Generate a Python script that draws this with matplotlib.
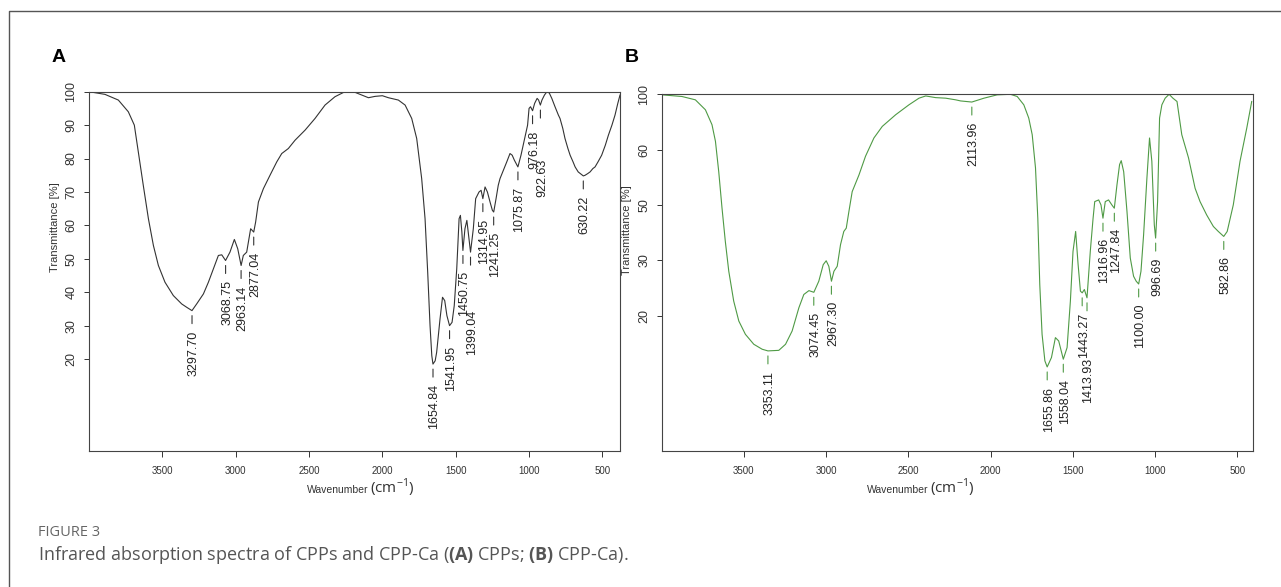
import numpy as np
import matplotlib
matplotlib.use("Agg")
import matplotlib.pyplot as plt
from matplotlib.lines import Line2D

# ---- data ----
# panel A: CPPs (wavenumber cm-1, transmittance %)
a_wn = [4000, 3891, 3800, 3732, 3691, 3664, 3630, 3595, 3561, 3527, 3482, 3425, 3368, 3334,
        3298, 3266, 3220, 3186, 3152, 3118, 3095, 3069, 3039, 3009, 2986, 2963, 2948, 2925,
        2898, 2877, 2864, 2845, 2811, 2766, 2720, 2686, 2641, 2595, 2527, 2459, 2391, 2323,
        2255, 2220, 2186, 2140, 2095, 2050, 2000, 1959, 1891, 1845, 1800, 1766, 1732, 1709,
        1691, 1675, 1663, 1655, 1640, 1630, 1607, 1590, 1575, 1560, 1542, 1525, 1510, 1493,
        1477, 1468, 1458, 1451, 1437, 1424, 1412, 1399, 1380, 1364, 1341, 1327, 1315, 1300,
        1284, 1266, 1250, 1241, 1225, 1210, 1198, 1175, 1152, 1130, 1115, 1100, 1076, 1055,
        1030, 1010, 1000, 990, 976, 962, 945, 935, 923, 912, 895, 878, 862, 845, 823, 800,
        789, 770, 755, 735, 720, 700, 686, 665, 650, 630, 618, 600, 584, 565, 550, 530, 505,
        480, 459, 435, 414, 395, 380]
a_T = [100, 99.2, 97.5, 94, 90, 82, 72, 62, 54, 48, 43, 39, 36.5, 35.5,
       34.5, 36.5, 39.5, 43, 47, 51, 51.2, 49.5, 52, 55.8, 53, 48, 51, 52,
       59, 58, 61, 67, 71, 75, 79, 81.5, 83, 85.5, 88.5, 92, 96, 98.5,
       100, 100, 99.8, 99, 98.2, 98.6, 98.8, 98.2, 97.5, 96, 92, 86, 74, 62,
       46, 30, 21, 18.5, 19.5, 22, 32, 38.5, 37.5, 33, 30, 31, 36, 47,
       62, 63, 58, 52.5, 59, 61.5, 57, 52, 59, 68, 70, 70.5, 68, 71.5,
       70, 67, 64.5, 64, 68, 72, 74, 76.5, 79, 81.5, 81, 79.5, 77.5, 81,
       86, 90, 95, 95.5, 94.3, 96.5, 98, 97.5, 96, 97.5, 99, 100, 99.6, 98, 95.5, 93,
       92, 89, 86, 83, 81, 79, 77.5, 76, 75.5, 74.8, 75, 75.5, 76, 77, 77.5, 79, 81,
       84, 87, 90, 93, 96.5, 99]

a_peak_wn = [3297.70, 3068.75, 2963.14, 2877.04, 1654.84, 1541.95, 1450.75, 1399.04,
             1314.95, 1241.25, 1075.87, 976.18, 922.63, 630.22]
a_peak_T = [34.5, 49.5, 48, 58, 18.5, 30, 52.5, 52, 68, 64, 77.5, 94.3, 96, 74.8]
a_peak_labels = ["3297.70", "3068.75", "2963.14", "2877.04", "1654.84", "1541.95", "1450.75",
                 "1399.04", "1314.95", "1241.25", "1075.87", "976.18", "922.63", "630.22"]
a_yticks = [100, 90, 80, 70, 60, 50, 40, 30, 20]
a_yticklabels = ["100", "90", "80", "70", "60", "50", "40", "30", "20"]

# panel B: CPP-Ca (plotted on the figure's own evenly spaced scale)
b_wn = [3995, 3875, 3794, 3733, 3693, 3672, 3652, 3632, 3612, 3591, 3561, 3530, 3490, 3439,
        3388, 3353, 3287, 3246, 3206, 3165, 3135, 3104, 3074, 3044, 3017, 2999, 2983, 2967,
        2952, 2932, 2912, 2892, 2877, 2861, 2841, 2800, 2760, 2709, 2658, 2577, 2496, 2435,
        2394, 2334, 2273, 2212, 2182, 2114, 2040, 1960, 1879, 1838, 1798, 1768, 1747, 1727,
        1713, 1701, 1687, 1670, 1656, 1630, 1606, 1586, 1558, 1535, 1515, 1499, 1483, 1468,
        1454, 1443, 1430, 1414, 1394, 1377, 1367, 1343, 1329, 1317, 1303, 1283, 1263, 1248,
        1232, 1216, 1206, 1191, 1171, 1151, 1131, 1115, 1100, 1086, 1070, 1050, 1034, 1020,
        1005, 997, 985, 973, 959, 939, 915, 892, 867, 838, 797, 757, 727, 687, 646, 616, 583,
        562, 525, 484, 443, 413]
b_T = [99.9, 99.6, 99, 97.2, 94.5, 91.5, 86, 79.4, 73.4, 68, 62.6, 59, 56.6, 54.8,
       53.9, 53.6, 53.7, 54.8, 57.2, 61.4, 63.8, 64.5, 64.2, 66.2, 69.2, 69.9, 68.9, 66.2,
       68, 68.9, 72.8, 75.2, 75.8, 78.8, 82.4, 85.4, 88.8, 92.1, 94.2, 96.3, 98.1, 99.3,
       99.7, 99.4, 99.3, 99, 98.8, 98.6, 99.3, 99.9, 100, 99.6, 98.1, 95.7, 92.7, 86.7,
       77.6, 65.6, 56.6, 51.8, 50.7, 52.4, 56, 55.4, 52.1, 54.2, 62.6, 71.6, 75.2, 69.2,
       64.4, 64.1, 64.7, 63.2, 71.6, 77.6, 80.6, 80.9, 80, 77.6, 80.6, 80.9, 80, 79.4,
       83.6, 87.3, 88, 86, 78.8, 70.4, 67.1, 66.2, 65.7, 68, 74.6, 84.8, 92.1, 87.9,
       76.4, 74, 80.6, 95.7, 98.1, 99.3, 100, 99.3, 98.7, 92.7, 88.5, 83, 80.6, 78.2, 76.1, 75.2, 74.3,
       75.2, 80, 87.9, 93.9, 98.7]

b_peak_wn = [3353.11, 3074.45, 2967.30, 2113.96, 1655.86, 1558.04, 1443.27, 1413.93,
             1316.96, 1247.84, 1100.00, 996.69, 582.86]
b_peak_T = [53.6, 64.2, 66.2, 98.6, 50.7, 52.1, 64.1, 63.2, 77.6, 79.4, 65.7, 74, 74.3]
b_peak_labels = ["3353.11", "3074.45", "2967.30", "2113.96", "1655.86", "1558.04", "1443.27",
                 "1413.93", "1316.96", "1247.84", "1100.00", "996.69", "582.86"]
b_yticks = [100, 90, 80, 70, 60]
b_yticklabels = ["100", "60", "50", "30", "20"]

x_ticks = [3500, 3000, 2500, 2000, 1500, 1000, 500]

# labels that were pushed further down to avoid overlap
low_labels = {"1399.04": 58, "922.63": 54, "1413.93": 60}

plt.rcParams["font.family"] = ["Liberation Sans", "DejaVu Sans"]
plt.rcParams["mathtext.fontset"] = "custom"
plt.rcParams["mathtext.rm"] = "Open Sans"
plt.rcParams["mathtext.bf"] = "Open Sans:bold"

W, H = 1281, 587
fig = plt.figure(figsize=(W / 100, H / 100), dpi=100)


def px_box(left, top, right, bottom):
    return [left / W, 1 - bottom / H, (right - left) / W, (bottom - top) / H]


def draw_panel(ax, wn, T, color, xlim, ylim, yticks, yticklabels, pk_wn, pk_T, pk_lab):
    ax.plot(wn, T, color=color, lw=0.8)
    ax.set_xlim(*xlim)
    ax.set_ylim(*ylim)
    for s in ax.spines.values():
        s.set_color("#444444")
        s.set_linewidth(0.8)
    ax.set_xticks(x_ticks, [str(t) for t in x_ticks], fontsize=7,
                  family=["Liberation Sans Narrow", "Liberation Sans"])
    ax.set_yticks(yticks, yticklabels, fontsize=9, rotation=90, va="center")
    ax.tick_params(axis="x", length=4.5, width=0.7, pad=6, colors="#333333")
    ax.tick_params(axis="y", length=3.5, width=0.7, pad=5, colors="#333333")
    for w, t, lab in zip(pk_wn, pk_T, pk_lab):
        ax.annotate("", xy=(w, t), xytext=(0, -13), textcoords="offset pixels",
                    arrowprops=dict(arrowstyle="-", shrinkA=0, shrinkB=3.6,
                                    color=color, lw=0.8))
        drop = low_labels.get(lab, 20)
        ax.annotate(lab, xy=(w, t), xytext=(1.5, -drop), textcoords="offset pixels",
                    rotation=90, ha="center", va="top", fontsize=9, color="#222222")


ax_a = fig.add_axes(px_box(89, 91.7, 620, 451))
draw_panel(ax_a, a_wn, a_T, "#333333", (4000, 380), (-7.5, 100),
           a_yticks, a_yticklabels, a_peak_wn, a_peak_T, a_peak_labels)

ax_b = fig.add_axes(px_box(662.3, 94.3, 1252.7, 451))
draw_panel(ax_b, b_wn, b_T, "#4f9a45", (3995, 407), (35.5, 100),
           b_yticks, b_yticklabels, b_peak_wn, b_peak_T, b_peak_labels)

# y labels, panel letters, x labels
for x, y in [(55, 227), (627, 230)]:
    fig.text(x / W, 1 - y / H, "Transmittance [%]", rotation=90, ha="center", va="center",
             fontsize=8, color="#333333")
for x, lab in [(52, "A"), (625, "B")]:
    fig.text(x / W, 1 - 62 / H, lab, fontsize=14, fontweight="bold", va="baseline")
for x in [368, 928]:
    fig.text(x / W, 1 - 493 / H, "Wavenumber", ha="right", va="baseline", fontsize=7.5,
             family=["Liberation Sans Narrow", "Liberation Sans"], color="#333333")
    fig.text((x + 2) / W, 1 - 493 / H, r"(cm$^{-1}$)", ha="left", va="baseline",
             fontsize=11, family="Open Sans", color="#333333")

# caption
fig.text(38 / W, 1 - 536 / H, "FIGURE 3", fontsize=10.5, family="Open Sans", color="#666666")
fig.text(38 / W, 1 - 560 / H,
         r"Infrared absorption spectra of CPPs and CPP-Ca ($\mathbf{(A)}$ CPPs; $\mathbf{(B)}$ CPP-Ca).",
         fontsize=13, family="Open Sans", color="#555555")

# outer frame (top and left edges)
fig.add_artist(Line2D([9 / W, 9 / W, 1], [0, 1 - 11 / H, 1 - 11 / H],
                      transform=fig.transFigure, color="#555555", lw=1))

fig.savefig("out.png", dpi=100)
